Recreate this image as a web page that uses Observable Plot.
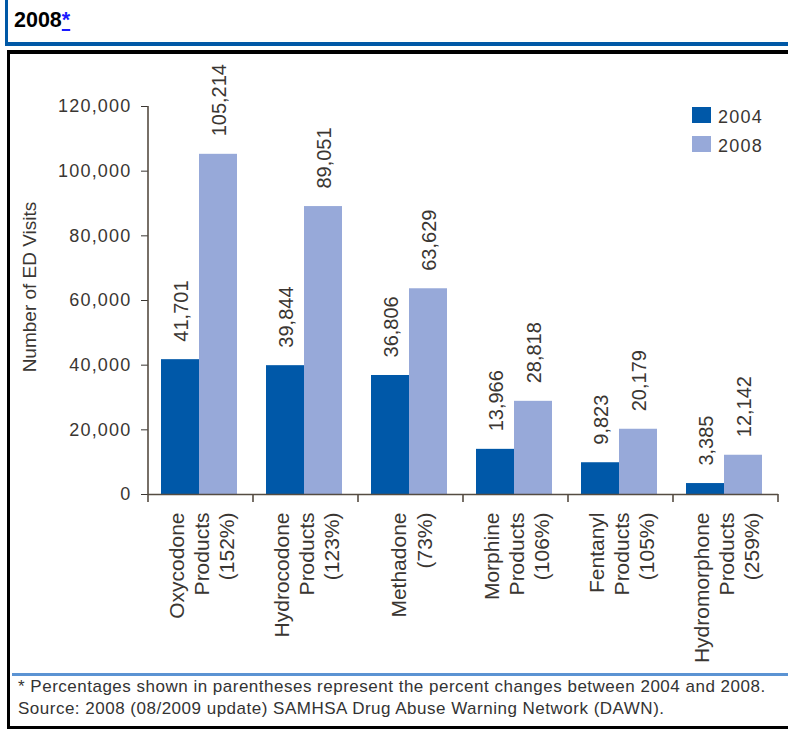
<!DOCTYPE html>
<html><head><meta charset="utf-8">
<script src="https://cdn.jsdelivr.net/npm/d3@7"></script>
<script src="https://cdn.jsdelivr.net/npm/@observablehq/plot@0.6"></script>
<style>
html,body{margin:0;padding:0;background:#fff;}
body{width:788px;height:729px;position:relative;overflow:hidden;font-family:"Liberation Sans",Arial,Helvetica,sans-serif;}
#head{position:absolute;left:5px;top:0;width:800px;height:42px;border-left:3px solid #0058a6;border-bottom:4px solid #0058a6;}
#head .t{position:absolute;left:6px;top:8px;font-weight:bold;font-size:21.5px;line-height:24px;color:#000;}
#head a{color:#1a1aff;text-decoration:underline;}
#box{position:absolute;left:7px;top:50px;width:800px;height:672px;border:3px solid #000;border-top-width:4px;}
#sep{position:absolute;left:12px;top:673px;width:790px;height:3px;background:#5b93d3;}
.fn{position:absolute;left:18px;font-size:17px;line-height:18px;letter-spacing:0.5px;color:#333;white-space:nowrap;}
#ytitle{position:absolute;left:-70px;top:277px;width:200px;height:20px;line-height:20px;text-align:center;font-size:19px;color:#3a3632;transform:rotate(-90deg);white-space:nowrap;}
.lg{position:absolute;left:692px;width:19px;height:16px;}
.lgt{position:absolute;left:718px;font-size:18px;line-height:18px;letter-spacing:1.2px;color:#3a3632;}
#chart{position:absolute;left:10px;top:54px;}
svg [aria-label^="y-axis"] text{letter-spacing:1.2px;}
</style>
</head><body>
<div id="head"><div class="t">2008<a href="#">*</a></div></div>
<div id="box"></div>
<div id="chart"></div>
<div id="ytitle">Number of ED Visits</div>
<div id="legend"></div>
<div id="sep"></div>
<div class="fn" style="top:678px">* Percentages shown in parentheses represent the percent changes between 2004 and 2008.</div>
<div class="fn" style="top:700px">Source: 2008 (08/2009 update) SAMHSA Drug Abuse Warning Network (DAWN).</div>
<script>
// ---- data ----
const categories = ["Oxycodone", "Hydrocodone", "Methadone", "Morphine", "Fentanyl", "Hydromorphone"];
const categoryLabels = [
  "Oxycodone\nProducts\n(152%)",
  "Hydrocodone\nProducts\n(123%)",
  "Methadone\n(73%)",
  "Morphine\nProducts\n(106%)",
  "Fentanyl\nProducts\n(105%)",
  "Hydromorphone\nProducts\n(259%)"
];
const years = ["2004", "2008"];
const values2004 = [41701, 39844, 36806, 13966, 9823, 3385];
const values2008 = [105214, 89051, 63629, 28818, 20179, 12142];
const yTicks = [0, 20000, 40000, 60000, 80000, 100000, 120000];
const yMax = 120000;
const colors = ["#0058a8", "#97a9d9"];
const textColor = "#3a3632";
const axisColor = "#554c42";

const rows = [];
categories.forEach((c, i) => {
  rows.push({cat: c, year: years[0], value: values2004[i]});
  rows.push({cat: c, year: years[1], value: values2008[i]});
});
const fmt = d3.format(",");

const chart = Plot.plot({
  width: 778,
  height: 615,
  marginLeft: 136,
  marginRight: 8,
  marginTop: 52,
  marginBottom: 175,
  style: {background: "transparent", fontFamily: "'Liberation Sans', Arial, sans-serif", fontSize: "18px", color: textColor, overflow: "visible"},
  fx: {domain: categories, padding: 0, axis: null, label: null},
  x: {domain: years, paddingInner: 0, paddingOuter: 0.36, axis: null, label: null},
  y: {domain: [0, yMax], ticks: yTicks, tickFormat: fmt, tickSize: 7, tickPadding: 10, label: null, grid: false},
  color: {domain: years, range: colors},
  marks: [
    Plot.barY(rows, {fx: "cat", x: "year", y: "value", fill: "year", dx: -2}),
    Plot.ruleY([0], {stroke: axisColor, strokeWidth: 1.6}),
    Plot.text(rows, {fx: "cat", x: "year", y: "value", text: d => fmt(d.value), rotate: -90, textAnchor: "start", lineAnchor: "middle", dx: -1, dy: -18, fontSize: 20, fill: textColor}),
    Plot.text(categories, {fx: d => d, text: (d, i) => categoryLabels[i], frameAnchor: "bottom", rotate: -90, textAnchor: "end", lineAnchor: "middle", lineHeight: 1.2, dy: 18, fontSize: 21, fill: textColor})
  ]
});
document.getElementById("chart").appendChild(chart);

// axis line and category boundary ticks, from Plot's own scales
const fxS = chart.scale("fx");
const yS = chart.scale("y");
const fxApply = fxS.apply ? fxS.apply : (c => d3.scaleBand(fxS.domain, fxS.range).padding(0)(c));
const yApply = yS.apply ? yS.apply : (v => d3.scaleLinear(yS.domain, yS.range)(v));
const step = fxS.step || fxS.bandwidth;
const g = d3.select(chart).append("g").attr("stroke", axisColor).attr("stroke-width", 1.6).attr("fill", "none");
const x0 = fxApply(categories[0]);
g.append("line").attr("x1", x0).attr("x2", x0).attr("y1", yApply(0) + 0.8).attr("y2", yApply(yMax));
const bounds = categories.map(c => fxApply(c)).concat([fxApply(categories[categories.length - 1]) + step]);
bounds.forEach(b => {
  g.append("line").attr("x1", b).attr("x2", b).attr("y1", yApply(0)).attr("y2", yApply(0) + 8);
});

// legend
const legend = document.getElementById("legend");
years.forEach((yr, i) => {
  const sw = document.createElement("div");
  sw.className = "lg";
  sw.style.top = (107 + i * 29) + "px";
  sw.style.background = colors[i];
  legend.appendChild(sw);
  const t = document.createElement("div");
  t.className = "lgt";
  t.style.top = (108 + i * 29) + "px";
  t.textContent = yr;
  legend.appendChild(t);
});
</script>
</body></html>
